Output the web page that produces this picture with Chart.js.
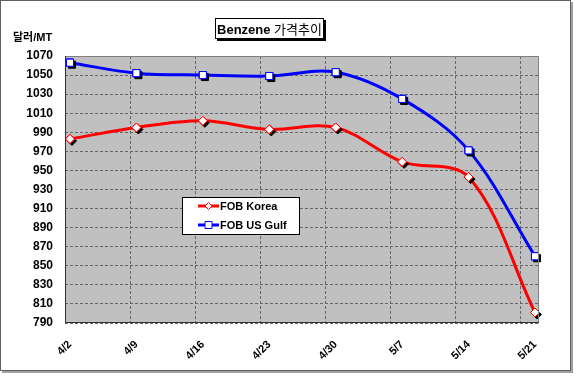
<!DOCTYPE html>
<html>
<head>
<meta charset="utf-8">
<script src="https://cdn.jsdelivr.net/npm/chart.js@4.4.0/dist/chart.umd.min.js"></script>
<style>
  html, body { margin: 0; padding: 0; background: #fff; }
  #wrap { position: relative; width: 574px; height: 377px; }
</style>
</head>
<body>
<div id="wrap"><canvas id="chart" width="574" height="377"></canvas></div>
<script>
// weekly benzene prices, $/MT
const weeks = ['4/2', '4/9', '4/16', '4/23', '4/30', '5/7', '5/14', '5/21']
const fobKorea = [983, 995, 1002, 993, 995, 959, 943, 801]
const fobUsGulf = [1063, 1052, 1050, 1049, 1053, 1025, 971, 860]
const yTicks = [790, 810, 830, 850, 870, 890, 910, 930, 950, 970, 990, 1010, 1030, 1050, 1070]

const chartTitle = ['Benzene ', '가격추이']
const yTitle = '달러/MT'

const korean = "'Noto Sans CJK KR'"

// frame, title box, y-axis title and plot background
const decor = {
  id: 'decor',
  beforeDraw(chart) {
    const ctx = chart.ctx
    const a = chart.chartArea
    ctx.save()
    ctx.fillStyle = '#fff'
    ctx.fillRect(0, 0, chart.width, chart.height)
    // outer frame
    ctx.fillStyle = '#a0a0a0'
    ctx.fillRect(571, 2, 2, 371)
    ctx.fillRect(2, 371, 571, 2)
    ctx.strokeStyle = '#606060'
    ctx.lineWidth = 1
    ctx.strokeRect(0.5, 0.5, 570, 370)
    // plot area
    ctx.fillStyle = '#c0c0c0'
    ctx.fillRect(a.left, a.top, a.right - a.left, a.bottom - a.top)
    // title box
    ctx.fillStyle = '#000'
    ctx.fillRect(217, 20, 109, 21)
    ctx.fillStyle = '#fff'
    ctx.fillRect(215, 18, 109, 21)
    ctx.strokeStyle = '#000'
    ctx.strokeRect(215.5, 18.5, 108, 20)
    ctx.textBaseline = 'alphabetic'
    ctx.textAlign = 'left'
    ctx.font = 'bold 13px Arial'
    const w1 = ctx.measureText(chartTitle[0]).width
    ctx.font = '13px ' + korean
    const w2 = ctx.measureText(chartTitle[1]).width
    let x = 269.5 - (w1 + w2) / 2
    ctx.fillStyle = '#000'
    ctx.font = 'bold 13px Arial'
    ctx.fillText(chartTitle[0], x, 34)
    ctx.font = '13px ' + korean
    ctx.fillText(chartTitle[1], x + w1, 34)
    // y-axis title
    ctx.font = 'bold 11px Arial, ' + korean
    ctx.fillText(yTitle, 13, 41)
    ctx.restore()
  },
  afterDatasetsDraw(chart) {
    const ctx = chart.ctx
    const a = chart.chartArea
    // marker shadows: redraw points with a hard black shadow
    chart.data.datasets.forEach((ds, i) => {
      const meta = chart.getDatasetMeta(i)
      meta.data.forEach(pt => {
        ctx.save()
        ctx.shadowColor = '#000'
        ctx.shadowOffsetX = 2
        ctx.shadowOffsetY = 2
        ctx.shadowBlur = 0
        pt.draw(ctx, a)
        ctx.restore()
        ctx.save()
        pt.draw(ctx, a)
        ctx.restore()
      })
    })
    // plot border
    ctx.save()
    ctx.strokeStyle = '#808080'
    ctx.lineWidth = 1
    ctx.beginPath()
    ctx.moveTo(a.left, a.top + 0.5)
    ctx.lineTo(a.right - 0.5, a.top + 0.5)
    ctx.lineTo(a.right - 0.5, a.bottom)
    ctx.stroke()
    ctx.strokeStyle = '#303030'
    ctx.beginPath()
    ctx.moveTo(a.left + 0.5, a.top)
    ctx.lineTo(a.left + 0.5, a.bottom - 0.5)
    ctx.lineTo(a.right, a.bottom - 0.5)
    ctx.stroke()

    // legend box
    ctx.fillStyle = '#fff'
    ctx.fillRect(182, 197, 118, 38)
    ctx.strokeStyle = '#000'
    ctx.strokeRect(182.5, 197.5, 117, 37)
    const rows = [{ y: 206, ds: 0 }, { y: 225, ds: 1 }]
    ctx.font = 'bold 11px Arial'
    ctx.textBaseline = 'middle'
    rows.forEach(r => {
      const ds = chart.data.datasets[r.ds]
      ctx.strokeStyle = ds.borderColor
      ctx.lineWidth = 3
      ctx.beginPath()
      ctx.moveTo(198, r.y)
      ctx.lineTo(219, r.y)
      ctx.stroke()
      ctx.lineWidth = 1
      ctx.fillStyle = '#fff'
      ctx.beginPath()
      if (ds.pointStyle === 'rectRot') {
        ctx.moveTo(208.5, r.y - 3.5)
        ctx.lineTo(212, r.y)
        ctx.lineTo(208.5, r.y + 3.5)
        ctx.lineTo(205, r.y)
        ctx.closePath()
      } else {
        ctx.rect(205, r.y - 3.5, 7, 7)
      }
      ctx.fill()
      ctx.stroke()
      ctx.fillStyle = '#000'
      ctx.fillText(ds.label, 220, r.y + 1)
    })
    ctx.restore()
  }
}

new Chart(document.getElementById('chart'), {
  type: 'line',
  data: {
    datasets: [
      {
        label: 'FOB Korea',
        data: fobKorea.map((v, i) => ({ x: i, y: v })),
        borderColor: '#ff0000',
        borderWidth: 3,
        tension: 0.35,
        pointStyle: 'rectRot',
        pointRadius: 4.5,
        pointBorderWidth: 1,
        pointBackgroundColor: '#fff',
        pointBorderColor: '#ff0000'
      },
      {
        label: 'FOB US Gulf',
        data: fobUsGulf.map((v, i) => ({ x: i, y: v })),
        borderColor: '#0000ff',
        borderWidth: 3,
        tension: 0.35,
        pointStyle: 'rect',
        pointRadius: 5,
        pointBorderWidth: 1,
        pointBackgroundColor: '#fff',
        pointBorderColor: '#0000ff'
      }
    ]
  },
  options: {
    responsive: false,
    animation: false,
    events: [],
    layout: { padding: { top: 56, right: 35, left: 0, bottom: 0 } },
    plugins: {
      legend: { display: false },
      title: { display: false },
      tooltip: { enabled: false }
    },
    scales: {
      x: {
        type: 'linear',
        position: 'bottom',
        min: -0.075,
        max: 7.06,
        grid: { display: false },
        border: { display: false },
        afterFit(s) { s.height = 54 },
        afterBuildTicks(s) { s.ticks = weeks.map((w, i) => ({ value: i })) },
        ticks: {
          includeBounds: false,
          minRotation: 45,
          maxRotation: 45,
          padding: 7,
          color: '#000',
          font: { family: 'Arial', size: 11, weight: 'bold' },
          callback: v => weeks[v]
        }
      },
      xg: {
        type: 'linear',
        position: 'bottom',
        min: 0,
        max: 474 / 65,
        afterFit(s) { s.height = 0 },
        afterBuildTicks(s) { s.ticks = weeks.slice(1).map((w, i) => ({ value: i + 1 })) },
        border: { display: false, dash: [3, 2] },
        grid: { color: '#666', lineWidth: 1, drawTicks: false },
        ticks: { display: false, includeBounds: false }
      },
      y: {
        min: yTicks[0],
        max: yTicks[yTicks.length - 1],
        afterFit(s) { s.width = 65 },
        afterBuildTicks(s) { s.ticks = yTicks.map(v => ({ value: v })) },
        border: { display: false, dash: [3, 2] },
        grid: { color: '#666', lineWidth: 1, drawTicks: false },
        ticks: {
          padding: 12,
          color: '#000',
          font: { family: 'Arial', size: 12, weight: 'bold' },
          callback: v => String(v)
        }
      }
    }
  },
  plugins: [decor]
})
</script>
</body>
</html>
